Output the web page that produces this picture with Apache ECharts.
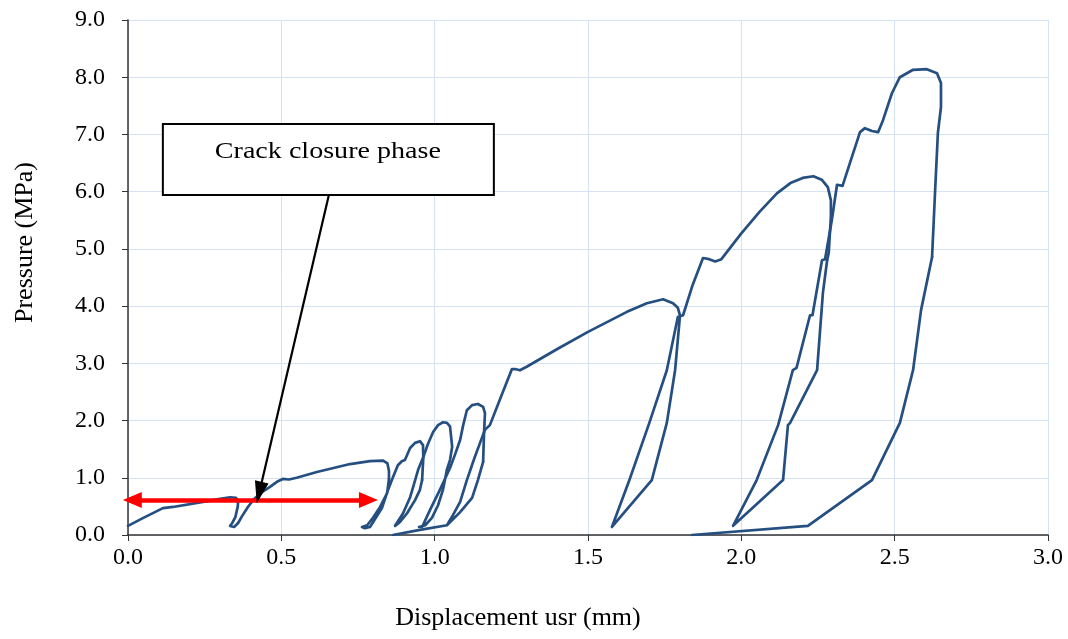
<!DOCTYPE html>
<html>
<head>
<meta charset="utf-8">
<script src="https://cdn.jsdelivr.net/npm/echarts@6/dist/echarts.min.js"></script>
<style>
  html, body { margin: 0; padding: 0; background: #fff; }
  #chart { width: 1068px; height: 639px; }
</style>
</head>
<body>
<div id="chart"></div>
<script>
// Displacement (mm) / pressure (MPa) pairs, one array per loading-unloading cycle
const cycle0 = [[0.000,0.16],[0.050,0.30],[0.114,0.47],[0.147,0.49],[0.235,0.57],[0.300,0.63],[0.333,0.66],[0.352,0.65],
  [0.359,0.60],[0.358,0.50],[0.350,0.31],[0.340,0.21],[0.333,0.16],[0.346,0.14],[0.359,0.21],[0.372,0.33],[0.391,0.49],
  [0.411,0.63],[0.437,0.75],[0.463,0.84],[0.489,0.94],[0.505,0.98],[0.525,0.97],[0.550,1.00],[0.616,1.10],[0.724,1.24],
  [0.789,1.29],[0.832,1.30],[0.846,1.25],[0.851,1.12],[0.851,0.98]];
const cycle1 = [[0.851,0.98],[0.845,0.73],[0.822,0.49],[0.800,0.31],[0.780,0.17],[0.763,0.14],[0.772,0.12],[0.789,0.14],
  [0.800,0.23],[0.828,0.47],[0.848,0.79],[0.864,1.01],[0.880,1.22],[0.893,1.29],[0.903,1.31],[0.920,1.52],[0.936,1.61],
  [0.952,1.64],[0.962,1.57],[0.963,1.36],[0.959,0.96]];
const cycle2 = [[0.959,0.96],[0.952,0.79],[0.936,0.61],[0.910,0.38],[0.887,0.23],[0.871,0.16],[0.877,0.15],[0.897,0.38],
  [0.920,0.66],[0.930,0.84],[0.946,1.14],[0.962,1.35],[0.978,1.59],[0.995,1.80],[1.011,1.92],[1.027,1.97],[1.040,1.96],
  [1.050,1.90],[1.053,1.75],[1.057,1.54],[1.050,1.31],[1.040,1.14]];
const cycle3 = [[1.040,1.14],[1.027,0.79],[1.011,0.52],[0.991,0.30],[0.969,0.17],[0.949,0.14],[0.959,0.14],[0.985,0.44],
  [1.017,0.79],[1.050,1.17],[1.066,1.40],[1.083,1.66],[1.093,1.92],[1.105,2.18],[1.122,2.27],[1.141,2.29],[1.158,2.24],
  [1.164,2.13],[1.161,1.78],[1.158,1.28]];
const cycle4 = [[1.158,1.28],[1.141,0.96],[1.122,0.65],[1.083,0.40],[1.040,0.17],[0.952,0.09],[0.864,0.00],[0.952,0.09],
  [1.040,0.17],[1.060,0.35],[1.083,0.58],[1.105,0.96],[1.130,1.35],[1.148,1.61],[1.164,1.84],[1.180,1.92],[1.215,2.40],
  [1.252,2.90],[1.262,2.90],[1.278,2.88],[1.300,2.94],[1.400,3.25],[1.500,3.55],[1.627,3.90],[1.692,4.05],[1.745,4.12],
  [1.777,4.05],[1.793,3.97],[1.800,3.84]];
const cycle5 = [[1.800,3.84],[1.797,3.81],[1.784,2.88],[1.757,1.96],[1.708,0.96],[1.578,0.14],[1.635,0.96],[1.700,1.96],
  [1.757,2.88],[1.793,3.81],[1.810,3.84],[1.840,4.35],[1.875,4.84],[1.895,4.82],[1.915,4.78],[1.935,4.82],[2.000,5.27],
  [2.060,5.65],[2.116,5.97],[2.160,6.15],[2.200,6.24],[2.235,6.27],[2.262,6.21],[2.282,6.08],[2.292,5.85],[2.292,5.56],
  [2.285,4.93],[2.280,4.81]];
const cycle6 = [[2.280,4.81],[2.266,4.23],[2.247,2.88],[2.159,1.96],[2.152,1.92],[2.136,0.96],[1.973,0.16],[2.050,0.96],
  [2.120,1.92],[2.168,2.88],[2.180,2.92],[2.224,3.84],[2.232,3.84],[2.263,4.80],[2.273,4.82],[2.295,5.50],[2.312,6.12],
  [2.330,6.10],[2.354,6.50],[2.387,7.04],[2.403,7.11],[2.426,7.06],[2.446,7.04],[2.462,7.25],[2.491,7.72],[2.517,8.00],
  [2.560,8.13],[2.605,8.14],[2.638,8.07],[2.651,7.90],[2.651,7.48],[2.641,7.03],[2.632,6.03],[2.622,4.86]];
const cycle7 = [[2.622,4.86],[2.586,3.93],[2.560,2.88],[2.517,1.96],[2.426,0.96],[2.217,0.16],[1.839,0.00]];

// Axis ticks
const xTicks = [0.0, 0.5, 1.0, 1.5, 2.0, 2.5, 3.0];
const yTicks = [0, 1, 2, 3, 4, 5, 6, 7, 8, 9];

// Annotations (data coordinates; arrowheads are centred on the end points)
const closureSpan = [[0.014, 0.61], [0.784, 0.61]];
const calloutArrow = [[0.655, 5.94], [0.428, 0.74]];
const calloutText = 'Crack closure phase';

const cycles = [cycle0, cycle1, cycle2, cycle3, cycle4, cycle5, cycle6, cycle7];
const lineColor = '#254f80';
const serif = '"Liberation Serif", "Times New Roman", serif';

const chart = echarts.init(document.getElementById('chart'));

const series = cycles.map(function (d) {
  return {
    type: 'line',
    data: d,
    showSymbol: false,
    symbol: 'none',
    smooth: false,
    silent: true,
    lineStyle: { color: lineColor, width: 2.7, join: 'round', cap: 'round' },
    z: 3
  };
});

series.push({
  type: 'line',
  data: [],
  silent: true,
  clip: false,
  z: 5,
  markLine: {
    silent: true,
    animation: false,
    label: { show: false },
    emphasis: { disabled: true },
    data: [
      [
        { coord: closureSpan[0], symbol: 'triangle', symbolSize: [16, 19], lineStyle: { color: '#ff0000', width: 4.5, type: 'solid' } },
        { coord: closureSpan[1], symbol: 'triangle', symbolSize: [16, 19] }
      ],
      [
        { coord: calloutArrow[0], symbol: 'none', lineStyle: { color: '#000000', width: 2.2, type: 'solid' } },
        { coord: calloutArrow[1], symbol: 'triangle', symbolSize: [14, 22] }
      ]
    ]
  }
});

chart.setOption({
  animation: false,
  backgroundColor: '#ffffff',
  grid: { left: 128, right: 20, top: 20, bottom: 104, containLabel: false },
  xAxis: {
    type: 'value',
    min: xTicks[0],
    max: xTicks[xTicks.length - 1],
    interval: 0.5,
    name: 'Displacement usr (mm)',
    nameLocation: 'middle',
    nameGap: 70,
    nameTextStyle: { fontFamily: serif, fontSize: 26, color: '#000', padding: [0, 140, 0, 0] },
    axisLine: { show: true, onZero: false, lineStyle: { color: '#333333', width: 1.5 } },
    axisTick: { show: true, inside: false, length: 6, lineStyle: { color: '#333333' } },
    axisLabel: { fontFamily: serif, fontSize: 24, color: '#000', margin: 11, formatter: function (v) { return v.toFixed(1); } },
    splitLine: { show: true, lineStyle: { color: '#d5e2f4', width: 1 } }
  },
  yAxis: {
    type: 'value',
    min: yTicks[0],
    max: yTicks[yTicks.length - 1],
    interval: 1,
    name: 'Pressure (MPa)',
    nameLocation: 'middle',
    nameGap: 90,
    nameTextStyle: { fontFamily: serif, fontSize: 26, color: '#000', padding: [0, 0, 0, 70] },
    axisLine: { show: true, lineStyle: { color: '#333333', width: 1.5 } },
    axisTick: { show: true, inside: false, length: 6, lineStyle: { color: '#333333' } },
    axisLabel: { fontFamily: serif, fontSize: 24, color: '#000', margin: 23, formatter: function (v) { return v.toFixed(1); } },
    splitLine: { show: true, lineStyle: { color: '#d5e2f4', width: 1 } }
  },
  series: series
});

// Callout box placed above the arrow's start point
const anchor = chart.convertToPixel({ gridIndex: 0 }, calloutArrow[0]);
const boxW = 331, boxH = 71;
chart.setOption({
  graphic: [
    {
      type: 'rect',
      x: anchor[0] - 166,
      y: anchor[1] - boxH,
      shape: { x: 0, y: 0, width: boxW, height: boxH },
      style: { fill: '#ffffff', stroke: '#000000', lineWidth: 2 },
      z: 10
    },
    {
      type: 'text',
      x: anchor[0] - 1,
      y: anchor[1] - boxH + 28,
      scaleX: 1.17,
      style: { text: calloutText, font: '24px ' + serif, fill: '#000', textAlign: 'center', textVerticalAlign: 'middle' },
      z: 11
    }
  ]
});
</script>
</body>
</html>
